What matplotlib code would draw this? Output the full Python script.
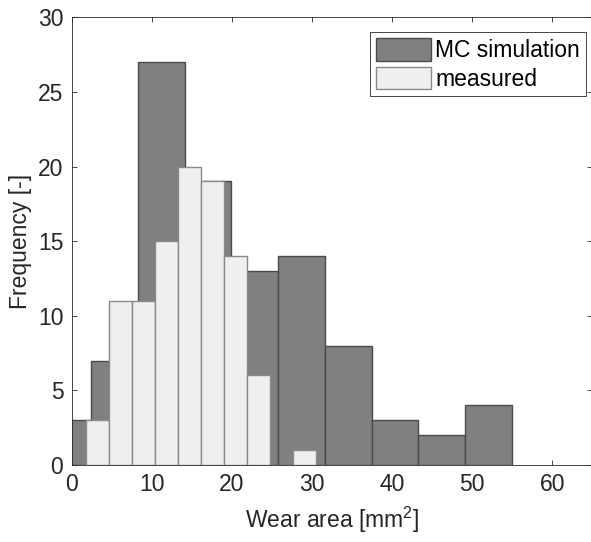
"""
Histogram of wear area: MC simulation vs. measured
"""

### Import modules
import numpy as np
import matplotlib
matplotlib.use('Agg')
import matplotlib.pyplot as plt

### Data (bin left edges, widths, counts)
mc_edges = [-3.40, 2.43, 8.26, 14.10, 19.93, 25.76, 31.60, 37.43, 43.26, 49.10]
mc_width = 5.83
mc_counts = [3, 7, 27, 19, 13, 14, 8, 3, 2, 4]

meas_edges = [1.80, 4.67, 7.54, 10.41, 13.28, 16.15, 19.02, 21.89, 24.76, 27.63]
meas_width = 2.87
meas_counts = [3, 11, 11, 15, 20, 19, 14, 6, 0, 1]

xticks = [0, 10, 20, 30, 40, 50, 60]
yticks = [0, 5, 10, 15, 20, 25, 30]

### Plot figure
fs = 16.5
plt.rc('font', family='Liberation Sans', size=fs)
plt.rc('mathtext', default='regular')
plt.rc('axes', edgecolor='#262626', labelcolor='#262626', linewidth=0.6)
plt.rc('xtick', color='#262626')
plt.rc('ytick', color='#262626')

fig = plt.figure(figsize=(5.91, 5.42), dpi=100)
ax = fig.add_axes([0.1213, 0.1421, 0.881, 0.826])

ax.bar(mc_edges, mc_counts, width=mc_width, align='edge',
       color='#808080', edgecolor='#4a4a4a', linewidth=1.0,
       label='MC simulation', zorder=2)
ax.bar(meas_edges, meas_counts, width=meas_width, align='edge',
       color='#efefef', edgecolor='#8a8a8a', linewidth=1.0,
       label='measured', zorder=3)

ax.set_xlim([0, 65])
ax.set_ylim([0, 30])
ax.set_xticks(xticks)
ax.set_yticks(yticks)
ax.tick_params('both', direction='in', length=3.5, width=0.6,
               top=True, right=True, labelsize=fs, pad=6)

ax.set_xlabel('Wear area [mm$^2$]', fontsize=fs, labelpad=6)
ax.set_ylabel('Frequency [-]', fontsize=fs, labelpad=4)

le = ax.legend(loc='upper right', bbox_to_anchor=(0.987, 0.967),
               fontsize=fs, fancybox=False, framealpha=1,
               edgecolor='#262626', handlelength=2.4, handleheight=1.15,
               handletextpad=0.2, borderpad=0.25, labelspacing=0.2,
               borderaxespad=0)
le.get_frame().set_linewidth(0.6)

plt.savefig('out.png', dpi=100)
